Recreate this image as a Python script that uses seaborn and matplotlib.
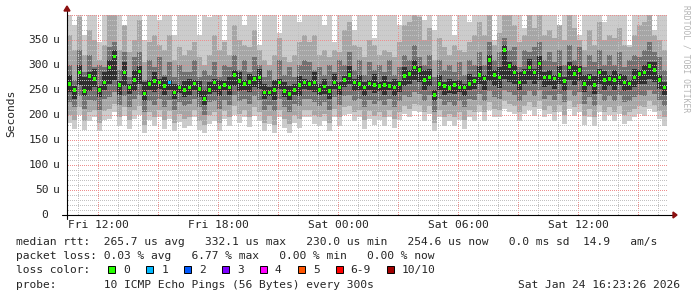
import numpy as np
import pandas as pd
import matplotlib
matplotlib.use("Agg")
import matplotlib.pyplot as plt
import matplotlib.transforms as mtransforms
from matplotlib.lines import Line2D
from matplotlib.patches import Rectangle, Polygon
import seaborn as sns

# ---------------- data (microseconds) ----------------
# one value per 15-minute step, 120 steps starting Fri ~10:27
median_rtt = [
    262,250,285,248,278,272,250,265,295,317,260,285,255,270,287,243,262,268,265,258,265,245,255,250,
    255,263,252,232,250,265,255,260,255,280,268,262,266,272,275,245,245,250,265,248,242,250,260,265,
    262,265,250,257,248,265,255,270,280,265,262,255,263,260,258,260,258,255,262,278,282,295,290,270,
    275,240,262,258,254,260,255,255,262,268,280,273,310,280,275,330,298,285,265,285,295,285,303,275,
    276,273,280,268,295,282,290,262,275,260,285,270,272,270,275,265,263,275,282,285,298,290,270,255]

# smoke bands (outer = lightest, core = darkest); 410 = runs off the top
smoke_outer_hi = [
    410,380,410,360,410,410,345,410,410,410,410,370,410,410,410,350,410,410,390,410,410,360,410,410,
    410,410,360,410,395,410,410,350,410,410,410,380,410,410,340,410,410,410,365,410,410,410,385,410,
    410,410,410,380,410,345,410,410,410,370,410,410,410,355,410,410,410,410,380,410,410,410,410,390,
    410,370,410,410,410,360,410,410,385,410,410,410,410,350,410,410,410,410,410,375,410,410,410,410,
    410,410,380,410,410,410,360,410,410,410,410,385,410,410,410,410,340,410,410,410,410,370,410,410]
smoke_outer_lo = [
    185,172,200,170,188,195,168,190,192,205,178,198,172,192,200,165,190,178,195,172,192,168,186,175,
    178,195,170,165,182,188,168,192,178,200,185,195,176,198,188,168,182,165,195,175,165,185,175,195,
    195,182,178,188,168,196,178,200,202,188,195,172,192,180,190,178,195,175,190,202,196,208,205,188,
    202,168,195,178,188,178,190,172,195,188,205,188,210,196,195,212,205,202,188,202,210,198,212,195,
    202,188,205,182,212,198,206,180,196,178,205,188,200,188,202,182,188,196,202,198,212,205,192,178]
smoke_mid_hi = [
    360,330,395,320,370,350,310,340,400,400,330,380,325,350,390,305,345,360,340,330,360,310,335,320,
    330,345,315,300,320,360,330,345,320,380,350,340,335,370,330,310,300,320,355,315,305,320,345,360,
    345,360,320,330,315,330,325,370,385,340,335,315,350,340,320,330,325,315,345,380,385,400,395,350,
    375,310,355,335,320,340,330,325,345,360,385,360,400,340,365,400,400,380,345,360,400,375,400,360,
    370,355,380,350,400,375,350,330,370,340,385,350,360,355,375,340,335,360,380,385,400,360,350,330]
smoke_mid_lo = [
    200,190,215,188,205,210,185,208,212,222,195,215,190,210,218,180,205,195,210,190,208,185,202,192,
    195,210,188,180,200,205,185,208,195,218,202,210,195,215,205,185,198,180,210,192,182,200,192,210,
    210,200,195,202,185,212,195,215,218,205,210,190,208,198,205,195,210,192,205,218,212,222,220,205,
    218,185,210,195,202,195,205,190,210,205,220,205,225,212,210,228,222,218,205,218,225,215,228,210,
    218,205,220,200,228,215,222,198,212,195,220,205,215,205,218,200,205,212,218,215,228,220,208,195]
smoke_inner_hi = [
    300,270,330,285,320,295,300,295,335,345,290,325,275,315,325,270,310,295,315,280,305,275,300,285,
    285,310,275,290,280,305,275,300,295,320,290,310,285,315,300,275,290,270,310,280,295,275,300,310,
    305,290,295,280,300,285,310,300,325,290,310,280,305,290,300,285,310,280,295,320,310,340,315,300,
    320,275,310,290,300,285,305,280,310,300,325,300,345,310,325,355,330,335,295,330,325,335,345,310,
    325,305,330,300,340,310,335,295,320,305,330,300,320,300,325,295,310,320,315,330,345,325,315,290]
smoke_inner_lo = [
    225,215,238,212,230,228,210,232,235,245,220,238,215,232,240,205,228,220,232,215,230,210,225,218,
    222,232,215,200,225,228,212,230,220,240,228,232,222,238,230,210,220,208,232,215,205,222,218,232,
    232,225,218,225,210,235,220,238,240,228,232,215,230,222,228,220,232,215,228,240,235,245,242,228,
    240,205,232,220,225,218,228,215,232,230,242,228,248,235,232,250,245,240,228,240,248,238,250,232,
    240,230,242,225,250,238,245,222,236,218,242,228,238,228,240,225,228,236,240,238,250,242,230,218]
smoke_core_hi = [
    280,258,300,275,285,292,258,285,310,330,268,305,262,290,298,265,270,285,272,275,270,262,260,268,
    272,270,268,250,265,272,270,268,275,290,285,270,282,278,292,262,255,270,272,265,258,262,278,272,
    270,285,262,272,258,282,265,278,298,272,280,265,270,282,266,278,265,272,268,295,290,310,298,290,
    292,250,280,265,272,268,270,262,282,275,298,280,320,290,295,340,305,300,285,292,312,292,318,285,
    290,280,298,275,305,300,298,280,282,278,292,288,280,290,282,280,270,292,290,300,306,305,280,265]
smoke_core_lo = [
    245,232,260,238,248,255,236,250,262,270,240,258,242,248,262,228,250,246,252,240,250,232,244,236,
    240,250,236,220,242,246,238,250,240,258,248,250,245,255,252,232,238,230,252,236,230,240,238,252,
    250,246,240,242,232,252,240,255,262,248,250,238,250,244,248,240,250,238,246,258,262,270,265,250,
    258,228,250,240,244,242,246,238,250,252,262,250,268,258,254,272,265,262,250,262,270,262,270,255,
    260,252,262,248,270,260,268,245,258,242,262,250,258,250,260,248,250,256,262,262,272,265,252,240]

loss_events = {20: "1"}          # step index -> loss class (all others "0")

x_tick_labels = ["Fri 12:00", "Fri 18:00", "Sat 00:00", "Sat 06:00", "Sat 12:00"]
x_tick_hours = [12, 18, 24, 30, 36]
y_tick_values = [0, 50, 100, 150, 200, 250, 300, 350]

loss_labels = ["0", "1", "2", "3", "4", "5", "6-9", "10/10"]
loss_colors = ["#26ff00", "#00b8ff", "#0059ff", "#7e00ff", "#ff00ff", "#ff5500", "#ff0000", "#a10000"]

legend_lines = [
    "median rtt:  265.7 us avg   332.1 us max   230.0 us min   254.6 us now   0.0 ms sd  14.9   am/s",
    "packet loss: 0.03 % avg   6.77 % max   0.00 % min   0.00 % now",
    "loss color:",
    "probe:       10 ICMP Echo Pings (56 Bytes) every 300s",
]
timestamp = "Sat Jan 24 16:23:26 2026"
y_title = "Seconds"
watermark = "RRDTOOL / TOBI OETIKER"

# ---------------- layout ----------------
sns.set_theme(style="white")
plt.rcParams["font.family"] = ["DejaVu Sans Mono", "DejaVu Sans"]
FS = 8.1

W, H = 697, 297
fig = plt.figure(figsize=(W / 100, H / 100), dpi=100)
fig.patch.set_facecolor("white")
pix = mtransforms.Affine2D().scale(1 / W, -1 / H).translate(0, 1) + fig.transFigure

X0, X1, YT, YB = 67, 668, 15, 215
PX_PER_H, PX_PER_U = 20.0, 0.5
rect = [X0 / W, (H - YB) / H, (X1 - X0) / W, (YB - YT) / H]
T0, STEP = 10.45, 0.25
XMAX = T0 + (X1 - X0) / PX_PER_H

# smoke axes (bottom layer)
ax = fig.add_axes(rect, zorder=0)
ax.set_facecolor("white")
ax.grid(False)

n = len(median_rtt)
edges = T0 + STEP * np.arange(n + 1)


def band(lo, hi, color):
    lo = np.append(lo, lo[-1])
    hi = np.append(hi, hi[-1])
    ax.fill_between(edges, lo, hi, step="post", color=color, lw=0)


band(smoke_outer_lo, smoke_outer_hi, "#cccccc")
band(smoke_mid_lo, smoke_mid_hi, "#a6a6a6")
band(smoke_inner_lo, smoke_inner_hi, "#717171")
band(smoke_core_lo, smoke_core_hi, "#303030")

# dotted grid, pixel exact (1 px on / 1 px off), placed over the smoke
gw, gh = X1 - X0, YB - YT
grid_img = np.zeros((gh, gw, 4))
gray = (0.76, 0.76, 0.76, 1.0)
red = (0.93, 0.56, 0.56, 1.0)
for h in range(11, 41):
    c = int(round((h - T0) * PX_PER_H))
    if 0 <= c < gw:
        grid_img[1::2, c] = red if h % 3 == 0 else gray
for v in range(10, 401, 10):
    r = int(round((400 - v) * PX_PER_U))
    grid_img[r, 1::2] = red if v % 50 == 0 else gray
fig.figimage(grid_img, xo=X0, yo=H - YB, origin="upper", zorder=1)

# median axes (top layer, transparent)
ax2 = fig.add_axes(rect, zorder=2)
ax2.patch.set_alpha(0)
ax2.grid(False)
loss = [loss_events.get(i, "0") for i in range(n)]
df = pd.DataFrame({"t": T0 + STEP * (np.arange(n) + 0.5), "rtt": median_rtt, "loss": loss})
sns.scatterplot(data=df, x="t", y="rtt", hue="loss",
                palette=dict(zip(loss_labels, loss_colors)), marker="s", s=6.5,
                linewidth=0, legend=False, ax=ax2)

for a in (ax, ax2):
    a.set_xlim(T0, XMAX)
    a.set_ylim(0, 400)
    a.set_xticks([])
    a.set_yticks([])
    a.set_xlabel("")
    a.set_ylabel("")
    for s in a.spines.values():
        s.set_visible(False)

# axes lines and arrows
fig.add_artist(Line2D([62, 673], [YB, YB], color="black", lw=0.8, transform=pix, zorder=3))
fig.add_artist(Line2D([X0, X0], [YB + 4, 9], color="black", lw=0.8, transform=pix, zorder=3))
fig.add_artist(Polygon([[673, YB - 3], [673, YB + 3], [677, YB]], closed=True,
                       color="#8c1010", transform=pix, zorder=3))
fig.add_artist(Polygon([[X0 - 3, 11], [X0 + 3, 11], [X0, 6]], closed=True,
                       color="#8c1010", transform=pix, zorder=3))

# y tick labels
for v in y_tick_values:
    yp = YB - v * PX_PER_U
    fig.text(48.5, yp, str(v), ha="right", va="center", fontsize=FS, transform=pix)
    if v:
        fig.text(60, yp, "u", ha="right", va="center", fontsize=FS, transform=pix)

# x tick labels
for h, lab in zip(x_tick_hours, x_tick_labels):
    fig.text(X0 + (h - T0) * PX_PER_H, 225, lab, ha="center", va="center", fontsize=FS,
             transform=pix)

fig.text(11, 113, y_title, rotation=90, ha="center", va="center", fontsize=FS, transform=pix)
fig.text(686, 5, watermark, rotation=270, ha="center", va="top", fontsize=5.8,
         color="#b4b4b4", transform=pix)

# legend text
baselines = [245, 259.2, 273.4, 287.6]
for line, yb in zip(legend_lines, baselines):
    fig.text(16, yb, line, ha="left", va="baseline", fontsize=FS, transform=pix)
fig.text(680, baselines[3], timestamp, ha="right", va="baseline", fontsize=FS, transform=pix)

bx = 108.3
for lab, col in zip(loss_labels, loss_colors):
    fig.add_artist(Rectangle((bx, 265.5), 7, 7, facecolor=col, edgecolor="black",
                             lw=0.7, transform=pix, zorder=3))
    fig.text(bx + 15, baselines[2], lab, ha="left", va="baseline", fontsize=FS, transform=pix)
    bx += 15 + len(lab) * 6.6 + 16.3

fig.savefig("out.png", dpi=100, facecolor="white")
